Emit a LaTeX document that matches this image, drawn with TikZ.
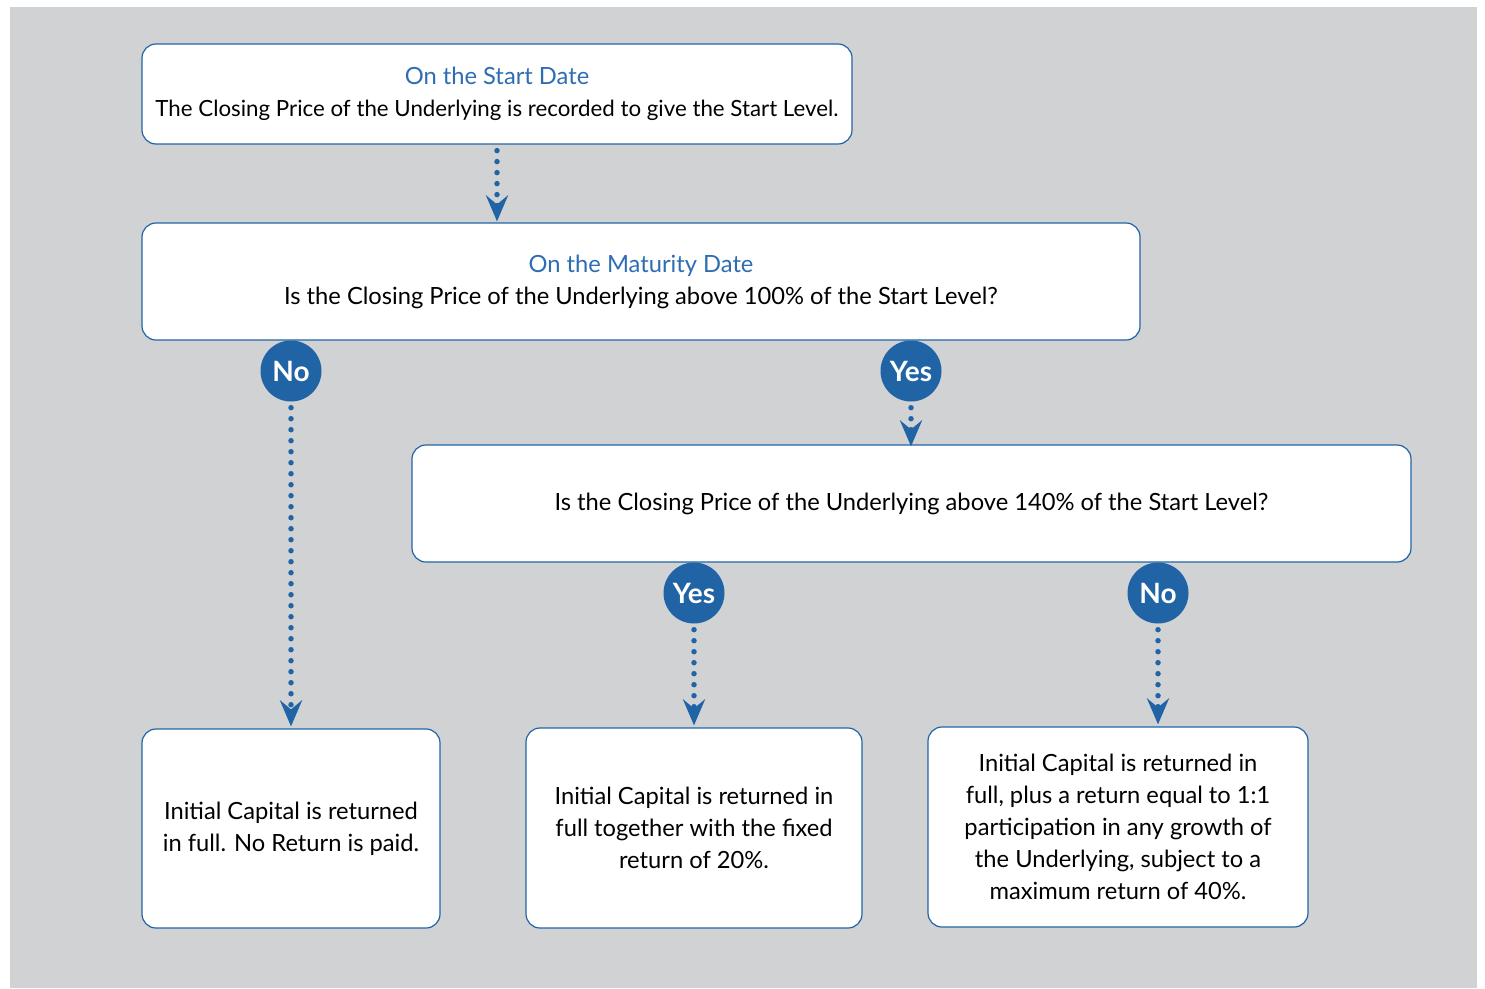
\documentclass[tikz,border=0pt]{standalone}
\usepackage{fontspec}
\setmainfont{Lato}
\usepackage{xcolor}
\usepackage{tikz}
\usetikzlibrary{positioning,arrows.meta}

\definecolor{panelgray}{HTML}{D1D2D4}
\definecolor{flowblue}{HTML}{2164A6}
\definecolor{titleblue}{HTML}{2E6DB4}

\tikzset{
  stagebox/.style={draw=flowblue, line width=1.2pt, fill=white, rounded corners=14pt,
    align=center, inner sep=0pt, font=\fontsize{23.7}{32}\selectfont},
  answer/.style={circle, fill=flowblue, minimum size=61pt, inner sep=0pt,
    text=white, font=\fontsize{28}{30}\selectfont\bfseries},
  flow/.style={draw=flowblue, line width=5.5pt, line cap=round, dash pattern=on 0pt off 11pt,
    -{Stealth[length=26pt, width=22pt, inset=9pt, line cap=butt]}}
}

\begin{document}
\begin{tikzpicture}[x=1pt,y=-1pt]

\useasboundingbox (0,0) rectangle (1485,988);
\fill[panelgray] (10,7) rectangle (1477,988);

% nodes %
\node[stagebox, minimum width=710pt, minimum height=100pt] (start) at (497,94)
  {{\color{titleblue}On the Start Date}\\{\fontsize{22.3}{32}\selectfont The Closing Price of the Underlying is recorded to give the Start Level.}};
\node[stagebox, minimum width=998pt, minimum height=117pt] (maturity) at (641,281.5)
  {{\color{titleblue}On the Maturity Date}\\Is the Closing Price of the Underlying above 100\% of the Start Level?};
\node[stagebox, minimum width=999pt, minimum height=117pt] (cap) at (911.5,503.5)
  {Is the Closing Price of the Underlying above 140\% of the Start Level?};

\node[stagebox, minimum width=298pt, minimum height=199pt] (full) at (291,828.5)
  {Initial Capital is returned\\in full. No Return is paid.};
\node[stagebox, minimum width=336pt, minimum height=200pt] (fixed) at (694,828)
  {Initial Capital is returned in\\full together with the fixed\\return of 20\%.};
\node[stagebox, minimum width=380pt, minimum height=200pt] (growth) at (1118,827)
  {Initial Capital is returned in\\full, plus a return equal to 1:1\\participation in any growth of\\the Underlying, subject to a\\maximum return of 40\%.};

\node[answer] (no1) at (291,371) {No};
\node[answer] (yes1) at (911,371) {Yes};
\node[answer] (yes2) at (694,593) {Yes};
\node[answer] (no2) at (1158,593) {No};

% edges %
\draw[flow, shorten <=6pt, shorten >=1pt] (start) -- (start |- maturity.north);
\draw[flow, shorten <=6pt, shorten >=2pt] (no1) -- (no1 |- full.north);
\draw[flow, shorten <=6pt, shorten >=-2pt] (yes1) -- (yes1 |- cap.north);
\draw[flow, shorten <=6pt, shorten >=2pt] (yes2) -- (fixed);
\draw[flow, shorten <=6pt, shorten >=2pt] (no2) -- (no2 |- growth.north);

\end{tikzpicture}
\end{document}
